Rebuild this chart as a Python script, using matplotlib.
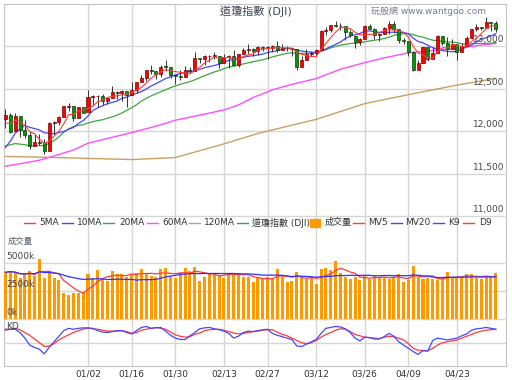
import numpy as np
import pandas as pd
import matplotlib
matplotlib.use('Agg')
import matplotlib.pyplot as plt
from matplotlib.lines import Line2D
from matplotlib.patches import Rectangle

plt.rcParams['font.family'] = ['DejaVu Sans', 'Noto Sans CJK TC']

# trading days 2011-12-07 .. 2012-05-03, day 0 = 2012-01-03
first_day = -17

open_ = [12147, 12194, 11998, 12182, 12021, 11953, 11826, 11870, 11866, 11769, 12103, 12107, 12169, 12291, 12292, 12152, 12287,
         12221, 12397, 12413, 12415, 12360, 12392, 12462, 12449, 12470, 12422, 12482, 12578, 12623, 12720, 12708, 12675, 12759, 12756, 12659, 12654,
         12633, 12716, 12707, 12861, 12845, 12878, 12883, 12889, 12801, 12874, 12878, 12781, 12904, 12950, 12965, 12937, 12984, 12981, 12981, 13005,
         12952, 12979, 12977, 12960, 12760, 12837, 12907, 12922, 12959, 13177, 13194, 13253, 13233, 13238, 13170, 13124, 13046, 13081, 13240, 13197, 13125, 13146,
         13211, 13264, 13199, 13074, 13057, 12929, 12716, 12805, 12985, 12850, 12922, 13114, 13032, 12965, 13027, 12928, 13003, 13091, 13205, 13228,
         13214, 13278, 13268]
high = [12258, 12211, 12219, 12182, 12137, 11992, 11968, 11967, 11909, 12107, 12117, 12179, 12295, 12331, 12292, 12288, 12288,
        12479, 12428, 12430, 12435, 12401, 12526, 12470, 12489, 12470, 12573, 12580, 12665, 12721, 12775, 12708, 12779, 12841, 12756, 12659, 12725,
        12762, 12753, 12929, 12861, 12891, 12894, 12930, 12889, 12904, 12898, 12959, 12904, 12975, 13027, 12976, 12999, 13000, 12999, 13011, 13056,
        13029, 13005, 12978, 12960, 12883, 12964, 12946, 12966, 13193, 13227, 13253, 13289, 13270, 13238, 13190, 13124, 13090, 13244, 13265, 13214, 13150, 13228,
        13297, 13290, 13199, 13095, 13057, 12940, 12840, 12995, 12985, 12986, 13133, 13114, 13101, 13083, 13027, 13034, 13121, 13204, 13264, 13228,
        13338, 13278, 13290]
low = [12037, 11977, 11998, 11935, 11925, 11798, 11826, 11845, 11735, 11769, 11966, 12076, 12169, 12236, 12122, 12152, 12217,
       12221, 12309, 12283, 12311, 12319, 12392, 12384, 12355, 12286, 12422, 12446, 12578, 12593, 12673, 12613, 12632, 12710, 12623, 12560, 12600,
       12633, 12680, 12707, 12797, 12782, 12818, 12850, 12746, 12801, 12742, 12766, 12751, 12904, 12913, 12887, 12900, 12946, 12847, 12931, 12929,
       12952, 12940, 12889, 12714, 12760, 12837, 12889, 12883, 12959, 13125, 13160, 13221, 13191, 13067, 13110, 12972, 13008, 13081, 13197, 13084, 13056, 13146,
       13138, 13148, 13033, 13029, 12887, 12710, 12716, 12805, 12829, 12850, 12922, 13013, 12880, 12965, 12834, 12928, 13003, 13085, 13177, 13185,
       13214, 13178, 13170]
close = [12196, 11997, 12184, 12021, 11955, 11824, 11869, 11866, 11766, 12103, 12107, 12169, 12294, 12292, 12151, 12288, 12218,
         12398, 12418, 12416, 12360, 12393, 12463, 12449, 12471, 12422, 12482, 12579, 12624, 12720, 12709, 12675, 12758, 12757, 12660, 12654, 12633,
         12716, 12705, 12862, 12845, 12878, 12883, 12890, 12801, 12874, 12878, 12781, 12904, 12950, 12966, 12938, 12985, 12983, 12981, 13005, 12952,
         12980, 12977, 12962, 12759, 12837, 12907, 12922, 12959, 13177, 13194, 13252, 13233, 13239, 13171, 13125, 13046, 13080, 13241, 13197, 13126, 13145, 13212,
         13264, 13199, 13075, 13060, 12929, 12716, 12805, 12986, 12850, 12921, 13115, 13033, 12964, 13029, 12928, 13002, 13090, 13204, 13229, 13214,
         13279, 13268, 13206]
# closes before the first candle, only used for the short moving averages
prev_close = [11780, 11893, 12153, 12079, 12096, 11906, 11770, 11796, 11547, 11494, 11257, 11231, 11523, 11556, 12046, 12020, 12019, 12098, 12150]

# long averages
ma60_day = [-17, -10, -3, 0, 5, 9, 14, 18, 23, 28, 31, 34, 38, 42, 47, 52, 57, 61, 66, 71, 76, 81, 84]
ma60_val = [11590, 11660, 11780, 11860, 11930, 11985, 12060, 12130, 12190, 12250, 12310, 12396, 12487, 12551, 12618, 12729,
            12806, 12862, 12920, 12948, 12972, 13012, 13031]
ma120_day = [-17, -5, 9, 18, 28, 35, 47, 57, 66, 76, 84]
ma120_val = [11705, 11690, 11668, 11692, 11852, 11975, 12140, 12325, 12430, 12542, 12621]

# volume in thousands
volume = [4170, 4290, 4080, 3630, 3990, 4290, 3870, 5360, 3690, 4080, 3630, 3480, 2290, 2140, 2350, 2290, 2440,
          3990, 3630, 4380, 3540, 3390, 4290, 4020, 4020, 3720, 4020, 4080, 4460, 3990, 3840, 3780, 4440, 4530, 3780, 3690, 4140,
          4530, 4290, 4670, 3420, 3720, 4080, 4140, 3930, 3630, 4140, 4080, 4080, 3780, 3720, 3280, 3690, 3540, 3780, 3630, 4460,
          3930, 3280, 3420, 4230, 3690, 3540, 3630, 3130, 4440, 4530, 4380, 5180, 4080, 3780, 3570, 3780, 3480, 3870, 3540, 3870, 3780, 3690,
          3540, 3780, 3990, 3280, 3480, 4730, 3720, 3570, 3690, 3570, 3480, 3540, 4170, 3780, 3690, 3630, 4020, 4020, 3690, 3570,
          3840, 3780, 4080]

k9 = [79, 79, 79, 72, 60, 45, 40, 36, 26, 40, 52, 64, 76, 81, 79, 81, 82,
      82, 81, 76, 73, 72, 74, 76, 76, 72, 69, 76, 83, 85, 81, 82, 83, 75, 66, 60, 57,
      57, 65, 72, 80, 82, 83, 80, 78, 75, 70, 60, 64, 72, 75, 74, 76, 78, 79, 70, 66,
      63, 60, 57, 43, 42, 47, 52, 57, 70, 81, 83, 85, 84, 80, 72, 60, 54, 62, 61, 58, 58, 63,
      70, 64, 52, 45, 38, 31, 25, 33, 32, 55, 60, 58, 56, 58, 60, 65, 69, 77, 80, 81,
      83, 81, 79]
d9 = [77, 79, 81, 78, 72, 66, 58, 50, 42, 43, 48, 56, 62, 67, 72, 76, 79,
      81, 80, 79, 77, 75, 75, 75, 76, 74, 70, 72, 77, 79, 81, 83, 81, 79, 73, 67, 64,
      62, 63, 68, 71, 76, 78, 79, 79, 77, 74, 71, 69, 70, 72, 74, 75, 77, 78, 78, 73,
      68, 65, 60, 55, 50, 48, 50, 55, 62, 68, 72, 77, 80, 79, 74, 68, 65, 62, 61, 60, 59, 62,
      64, 63, 60, 56, 48, 38, 34, 33, 33, 38, 45, 50, 52, 54, 56, 60, 64, 68, 72, 75,
      77, 78, 79]

tick_day = [0, 9, 18, 28, 37, 47, 57, 66, 76]
tick_label = ['01/02', '01/16', '01/30', '02/13', '02/27', '03/12', '03/26', '04/09', '04/23']

days = np.arange(first_day, first_day + len(close))
o = np.array(open_); c = np.array(close); h = np.array(high); l = np.array(low)
s = pd.Series(prev_close + close)
n0 = len(prev_close)
ma5 = s.rolling(5).mean().values[n0:]
ma10 = s.rolling(10).mean().values[n0:]
ma20 = s.rolling(20).mean().values[n0:]
v = pd.Series(volume)
mv5 = v.rolling(5, min_periods=1).mean().values
mv20 = v.rolling(20, min_periods=1).mean().values

RED = '#ff3b3b'; BLUE = '#4646ff'; GREEN = '#3da63d'; PINK = '#ff4dff'; TAN = '#c9a063'
GRID = '#d6d6d6'

W, H = 512, 380
def rect(left, top, right, bottom):
    return [left / W, 1 - bottom / H, (right - left) / W, (bottom - top) / H]

# x scale: day 0 at pixel 88, 4.855 px per day, frame from 4 to 506
x0 = (4 - 88) / 4.855
x1 = (506 - 88) / 4.855

fig = plt.figure(figsize=(5.12, 3.8), dpi=100)
fig.patch.set_facecolor('white')

bg = fig.add_axes(rect(4, 4, 506, 366))
bg.set_xlim(x0, x1)
bg.set_ylim(0, 1)
for sp in bg.spines.values():
    sp.set_color('#c4c4c4')
bg.set_xticks(tick_day)
bg.set_xticklabels(tick_label)
bg.set_yticks([])
bg.tick_params(axis='x', length=0, labelsize=6.5, colors='#333333', pad=2.5)
bg.grid(axis='x', color=GRID, lw=1)

# price
ax = fig.add_axes(rect(4, 4, 506, 216.5))
ax.patch.set_alpha(0)
ax.set_xlim(x0, x1)
ax.set_ylim(11000, 13494)
ax.axis('off')
for lvl in [11000, 11500, 12000, 12500, 13000]:
    ax.axhline(lvl, color=GRID, lw=1, zorder=0, clip_on=False)
    ax.text(x1 - 0.3, lvl + 25, f'{lvl:,}', ha='right', va='bottom', fontsize=6.5, color='#444444')
ax.plot(ma60_day, ma60_val, color=PINK, lw=1, zorder=2)
ax.plot(ma120_day, ma120_val, color=TAN, lw=1, zorder=2)
ax.plot(days, ma20, color=GREEN, lw=0.9, zorder=2)
ax.plot(days, ma10, color=BLUE, lw=0.9, zorder=2)
up = c >= o
ax.vlines(days, l, h, color='#333333', lw=0.7, zorder=3)
body = np.maximum(np.abs(c - o), 6)
ax.bar(days, body, bottom=np.minimum(o, c), width=0.62,
       color=np.where(up, '#ff0000', '#009a00'), edgecolor=np.where(up, '#7a0000', '#0f3a0f'),
       linewidth=0.5, zorder=4)
ax.plot(days, ma5, color=RED, lw=0.8, zorder=5)

# volume
av = fig.add_axes(rect(4, 248, 506, 319))
av.patch.set_alpha(0)
av.set_xlim(x0, x1)
av.set_ylim(0, (319 - 248) / 11.2 * 1000)
av.axis('off')
for lvl, lab in [(0, '0k'), (2500, '2500k'), (5000, '5000k')]:
    av.axhline(lvl, color=GRID, lw=1, zorder=0, clip_on=False)
    av.text(x0 + 0.4, lvl + 150, lab, ha='left', va='bottom', fontsize=6.5, color='#444444', zorder=6)
av.bar(days, volume, width=0.62, color='#ff9900', zorder=2)
av.plot(days, mv5, color=RED, lw=0.9, zorder=3)
av.plot(days, mv20, color='#3030ff', lw=0.9, zorder=3)

# KD
ak = fig.add_axes(rect(4, 319.5, 506, 366))
ak.patch.set_alpha(0)
ak.set_xlim(x0, x1)
ak.set_ylim(0, 100)
ak.axis('off')
ak.axhline(50, color=GRID, lw=1, zorder=0)
ak.plot(days, d9, color=RED, lw=0.9)
ak.plot(days, k9, color=BLUE, lw=0.9)

# overlay in pixel coordinates
ov = fig.add_axes([0, 0, 1, 1])
ov.set_xlim(0, W)
ov.set_ylim(H, 0)
ov.axis('off')
ov.patch.set_alpha(0)
ov.text(256, 11, '道瓊指數 (DJI)', ha='center', va='center', fontsize=8, color='#3c4656')
ov.text(486, 11, '玩股網 www.wantgoo.com', ha='right', va='center', fontsize=6.5, color='#6f7d95')
ov.text(8, 241, '成交量', ha='left', va='center', fontsize=6, color='#556070')
ov.text(6, 326.5, 'KD', ha='left', va='center', fontsize=6.5, color='#444444')

legend = [('5MA', RED, 24, 39), ('10MA', BLUE, 62, 77), ('20MA', GREEN, 103, 119),
          ('60MA', PINK, 147, 162), ('120MA', TAN, 189, 204), ('道瓊指數 (DJI)', GREEN, 237, 252),
          ('成交量', None, 310, 325), ('MV5', RED, 353, 368), ('MV20', BLUE, 391, 405),
          ('K9', BLUE, 433, 448), ('D9', RED, 463, 479)]
ly = 222.5
for name, col, xl, xt in legend:
    if col is None:
        ov.add_patch(Rectangle((xl, ly - 4), 10, 8, color='#ff9900'))
    else:
        ov.add_line(Line2D([xl, xl + 11], [ly, ly], color=col, lw=1))
    ov.text(xt, ly, name, ha='left', va='center', fontsize=6.5, color='#333333')

fig.savefig('out.png', dpi=100)
